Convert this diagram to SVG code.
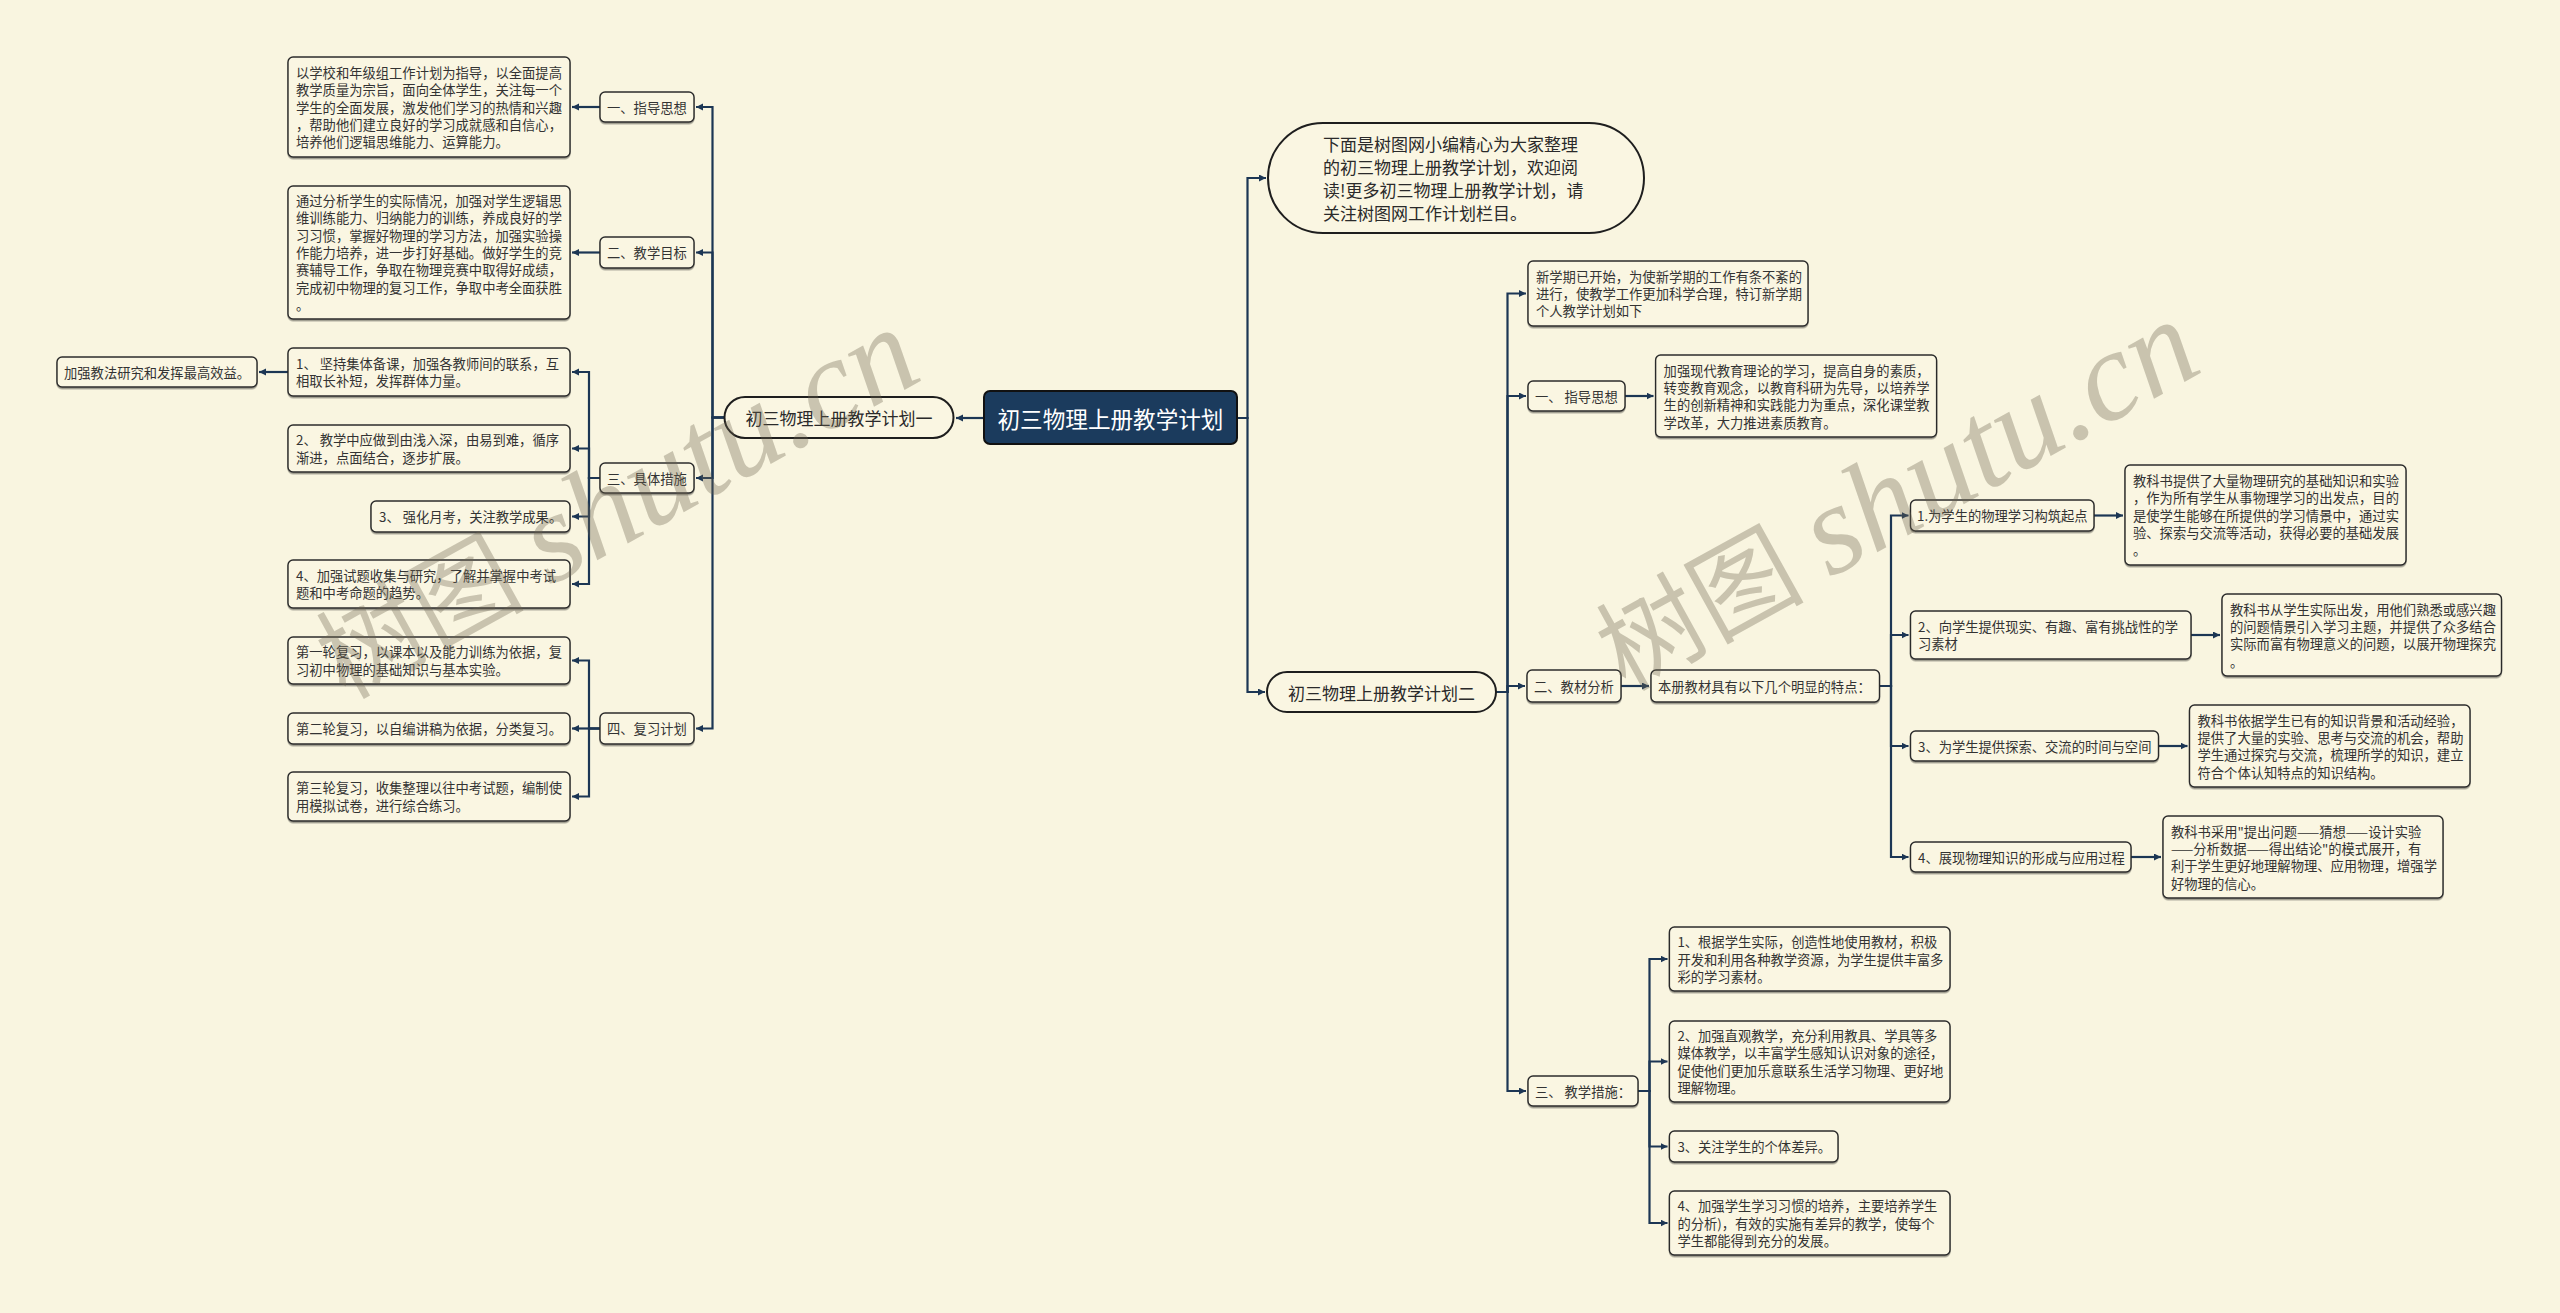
<svg xmlns="http://www.w3.org/2000/svg" width="2560" height="1313" viewBox="0 0 2560 1313">
<defs>
<style>
.bx{fill:#faf6e2;stroke:#2b2b2b;stroke-width:1.4;filter:url(#sh)}
.pl{fill:#faf6e2;stroke:#1e1e1e;stroke-width:2}
.t{font-family:"Noto Sans CJK SC","Noto Sans",sans-serif;font-size:13.3px;fill:#333;dominant-baseline:central}
.tp{font-family:"Noto Sans CJK SC","Noto Sans",sans-serif;font-size:17px;fill:#2a2a2a;dominant-baseline:central}
.tr{font-family:"Noto Sans CJK SC","Noto Sans",sans-serif;font-size:22.6px;fill:#ffffff;dominant-baseline:central}
.c{fill:none;stroke:#1c3654;stroke-width:2.2;marker-end:url(#ar)}
.wm{font-family:"Liberation Serif","Noto Sans CJK SC",serif;font-size:104px;fill:#6b6550;fill-opacity:0.34}
.wl{font-size:128px;font-style:italic}
</style>
<filter id="sh" x="-5%" y="-10%" width="110%" height="130%">
<feDropShadow dx="0" dy="1.5" stdDeviation="0.7" flood-color="#000" flood-opacity="0.4"/>
</filter>
<marker id="ar" markerUnits="userSpaceOnUse" markerWidth="8" markerHeight="8" refX="7" refY="3.5" orient="auto">
<path d="M0,0 L7,3.5 L0,7 Z" fill="#1c3654"/>
</marker>
</defs>
<rect width="2560" height="1313" fill="#f9f5e0"/>

<g id="connectors">
<path class="c" d="M984,418 H956"/>
<path class="c" d="M724.5,417.5 H712.5 V107 H696"/>
<path class="c" d="M724.5,417.5 H712.5 V252.5 H696"/>
<path class="c" d="M724.5,417.5 H712.5 V478 H696"/>
<path class="c" d="M724.5,417.5 H712.5 V728.5 H696"/>
<path class="c" d="M600,107 H572"/>
<path class="c" d="M600,252.5 H572"/>
<path class="c" d="M600,478 H589 V372 H572"/>
<path class="c" d="M600,478 H589 V448.5 H572"/>
<path class="c" d="M600,478 H589 V516.5 H572"/>
<path class="c" d="M600,478 H589 V584 H572"/>
<path class="c" d="M288,372 H259"/>
<path class="c" d="M600,728.5 H589 V660.5 H572"/>
<path class="c" d="M600,728.5 H589 V728.5 H572"/>
<path class="c" d="M600,728.5 H589 V796.5 H572"/>
<path class="c" d="M1237,418 H1247.5 V178 H1266"/>
<path class="c" d="M1237,418 H1247.5 V692 H1265"/>
<path class="c" d="M1496,692 H1507.5 V293.5 H1526"/>
<path class="c" d="M1496,692 H1507.5 V396 H1526"/>
<path class="c" d="M1496,692 H1507.5 V686 H1525"/>
<path class="c" d="M1496,692 H1507.5 V1091 H1526"/>
<path class="c" d="M1625,396 H1653.5"/>
<path class="c" d="M1621,686 H1649"/>
<path class="c" d="M1879.5,686 H1891 V515.5 H1908.5"/>
<path class="c" d="M1879.5,686 H1891 V635 H1908.5"/>
<path class="c" d="M1879.5,686 H1891 V746 H1908.5"/>
<path class="c" d="M1879.5,686 H1891 V857 H1908.5"/>
<path class="c" d="M2094,515.5 H2123"/>
<path class="c" d="M2191,635 H2220"/>
<path class="c" d="M2158.5,746 H2187.5"/>
<path class="c" d="M2131,857 H2161"/>
<path class="c" d="M1638,1091 H1649.5 V959 H1667.5"/>
<path class="c" d="M1638,1091 H1649.5 V1061.5 H1667.5"/>
<path class="c" d="M1638,1091 H1649.5 V1146.5 H1667.5"/>
<path class="c" d="M1638,1091 H1649.5 V1223 H1667.5"/>
</g>

<g id="root">
<rect x="984" y="391" width="253" height="53" rx="6" fill="#1b3b5d" stroke="#111" stroke-width="2"/>
<text class="tr" x="1110.5" y="418" text-anchor="middle">初三物理上册教学计划</text>
</g>

<g id="plan1">
<rect class="pl" x="724.5" y="397" width="229" height="41" rx="20.5"/>
<text class="tp" x="839" y="417.5" text-anchor="middle">初三物理上册教学计划一</text>
</g>

<g id="l-h1">
<rect class="bx" x="600" y="92" width="94" height="30" rx="5"/>
<text class="t" x="607" y="107">一、指导思想</text>
</g>
<g id="l-h1-d">
<rect class="bx" x="288" y="57" width="282" height="100" rx="5"/>
<text class="t" x="296" y="72.4">以学校和年级组工作计划为指导，以全面提高</text>
<text class="t" x="296" y="89.7">教学质量为宗旨，面向全体学生，关注每一个</text>
<text class="t" x="296" y="107">学生的全面发展，激发他们学习的热情和兴趣</text>
<text class="t" x="296" y="124.3">，帮助他们建立良好的学习成就感和自信心，</text>
<text class="t" x="296" y="141.6">培养他们逻辑思维能力、运算能力。</text>
</g>

<g id="l-h2">
<rect class="bx" x="600" y="237" width="94" height="31" rx="5"/>
<text class="t" x="607" y="252.5">二、教学目标</text>
</g>
<g id="l-h2-d">
<rect class="bx" x="288" y="186" width="282" height="133" rx="5"/>
<text class="t" x="296" y="200.6">通过分析学生的实际情况，加强对学生逻辑思</text>
<text class="t" x="296" y="217.9">维训练能力、归纳能力的训练，养成良好的学</text>
<text class="t" x="296" y="235.2">习习惯，掌握好物理的学习方法，加强实验操</text>
<text class="t" x="296" y="252.5">作能力培养，进一步打好基础。做好学生的竞</text>
<text class="t" x="296" y="269.8">赛辅导工作，争取在物理竞赛中取得好成绩，</text>
<text class="t" x="296" y="287.1">完成初中物理的复习工作，争取中考全面获胜</text>
<text class="t" x="296" y="304.4">。</text>
</g>

<g id="l-h3">
<rect class="bx" x="600" y="463" width="94" height="30" rx="5"/>
<text class="t" x="607" y="478">三、具体措施</text>
</g>
<g id="l-m1">
<rect class="bx" x="288" y="348" width="282" height="48" rx="5"/>
<text class="t" x="296" y="363.4">1、 坚持集体备课，加强各教师间的联系，互</text>
<text class="t" x="296" y="380.7">相取长补短，发挥群体力量。</text>
</g>
<g id="l-m0">
<rect class="bx" x="57" y="357" width="200" height="30" rx="5"/>
<text class="t" x="64" y="372">加强教法研究和发挥最高效益。</text>
</g>
<g id="l-m2">
<rect class="bx" x="288" y="425" width="282" height="47" rx="5"/>
<text class="t" x="296" y="439.9">2、 教学中应做到由浅入深，由易到难，循序</text>
<text class="t" x="296" y="457.2">渐进，点面结合，逐步扩展。</text>
</g>
<g id="l-m3">
<rect class="bx" x="371" y="501" width="199" height="31" rx="5"/>
<text class="t" x="379" y="516.5">3、 强化月考，关注教学成果。</text>
</g>
<g id="l-m4">
<rect class="bx" x="288" y="560" width="282" height="48" rx="5"/>
<text class="t" x="296" y="575.4">4、加强试题收集与研究，了解并掌握中考试</text>
<text class="t" x="296" y="592.7">题和中考命题的趋势。</text>
</g>

<g id="l-h4">
<rect class="bx" x="600" y="713" width="94" height="31" rx="5"/>
<text class="t" x="607" y="728.5">四、复习计划</text>
</g>
<g id="l-r1">
<rect class="bx" x="288" y="637" width="282" height="47" rx="5"/>
<text class="t" x="296" y="651.9">第一轮复习，以课本以及能力训练为依据，复</text>
<text class="t" x="296" y="669.2">习初中物理的基础知识与基本实验。</text>
</g>
<g id="l-r2">
<rect class="bx" x="288" y="713" width="282" height="31" rx="5"/>
<text class="t" x="296" y="728.5">第二轮复习，以自编讲稿为依据，分类复习。</text>
</g>
<g id="l-r3">
<rect class="bx" x="288" y="772" width="282" height="49" rx="5"/>
<text class="t" x="296" y="787.9">第三轮复习，收集整理以往中考试题，编制使</text>
<text class="t" x="296" y="805.2">用模拟试卷，进行综合练习。</text>
</g>

<g id="intro">
<rect class="pl" x="1268" y="123" width="376" height="110" rx="55"/>
<text class="tp" x="1323" y="143.5">下面是树图网小编精心为大家整理</text>
<text class="tp" x="1323" y="166.5">的初三物理上册教学计划，欢迎阅</text>
<text class="tp" x="1323" y="189.5">读!更多初三物理上册教学计划，请</text>
<text class="tp" x="1323" y="212.5">关注树图网工作计划栏目。</text>
</g>

<g id="plan2">
<rect class="pl" x="1267" y="672" width="229" height="40" rx="20"/>
<text class="tp" x="1381.5" y="692" text-anchor="middle">初三物理上册教学计划二</text>
</g>

<g id="r-new">
<rect class="bx" x="1528" y="261" width="280" height="65" rx="5"/>
<text class="t" x="1536" y="276.2">新学期已开始，为使新学期的工作有条不紊的</text>
<text class="t" x="1536" y="293.5">进行，使教学工作更加科学合理，特订新学期</text>
<text class="t" x="1536" y="310.8">个人教学计划如下</text>
</g>

<g id="r-h1">
<rect class="bx" x="1528" y="381" width="97" height="30" rx="5"/>
<text class="t" x="1535" y="396">一、 指导思想</text>
</g>
<g id="r-h1-d">
<rect class="bx" x="1655.6" y="355" width="281" height="82" rx="5"/>
<text class="t" x="1663.6" y="370.1">加强现代教育理论的学习，提高自身的素质，</text>
<text class="t" x="1663.6" y="387.4">转变教育观念，以教育科研为先导，以培养学</text>
<text class="t" x="1663.6" y="404.7">生的创新精神和实践能力为重点，深化课堂教</text>
<text class="t" x="1663.6" y="422">学改革，大力推进素质教育。</text>
</g>

<g id="r-h2">
<rect class="bx" x="1527" y="670" width="94" height="32" rx="5"/>
<text class="t" x="1534" y="686">二、教材分析</text>
</g>
<g id="r-h2-a">
<rect class="bx" x="1651" y="670" width="228.5" height="32" rx="5"/>
<text class="t" x="1658" y="686">本册教材具有以下几个明显的特点：</text>
</g>

<g id="r-f1">
<rect class="bx" x="1910.5" y="500" width="183.5" height="31" rx="5"/>
<text class="t" x="1917" y="515.5">1.为学生的物理学习构筑起点</text>
</g>
<g id="r-f1-d">
<rect class="bx" x="2125" y="465" width="281" height="100" rx="5"/>
<text class="t" x="2133" y="480.4">教科书提供了大量物理研究的基础知识和实验</text>
<text class="t" x="2133" y="497.7">，作为所有学生从事物理学习的出发点，目的</text>
<text class="t" x="2133" y="515">是使学生能够在所提供的学习情景中，通过实</text>
<text class="t" x="2133" y="532.3">验、探索与交流等活动，获得必要的基础发展</text>
<text class="t" x="2133" y="549.6">。</text>
</g>

<g id="r-f2">
<rect class="bx" x="1910.5" y="611" width="280.5" height="48" rx="5"/>
<text class="t" x="1918" y="626.4">2、向学生提供现实、有趣、富有挑战性的学</text>
<text class="t" x="1918" y="643.7">习素材</text>
</g>
<g id="r-f2-d">
<rect class="bx" x="2222" y="594" width="279.5" height="82" rx="5"/>
<text class="t" x="2230" y="609.1">教科书从学生实际出发，用他们熟悉或感兴趣</text>
<text class="t" x="2230" y="626.4">的问题情景引入学习主题，并提供了众多结合</text>
<text class="t" x="2230" y="643.7">实际而富有物理意义的问题，以展开物理探究</text>
<text class="t" x="2230" y="661">。</text>
</g>

<g id="r-f3">
<rect class="bx" x="1910.5" y="731" width="248" height="30" rx="5"/>
<text class="t" x="1918" y="746">3、为学生提供探索、交流的时间与空间</text>
</g>
<g id="r-f3-d">
<rect class="bx" x="2189.5" y="705" width="280.5" height="82" rx="5"/>
<text class="t" x="2197.5" y="720.1">教科书依据学生已有的知识背景和活动经验，</text>
<text class="t" x="2197.5" y="737.4">提供了大量的实验、思考与交流的机会，帮助</text>
<text class="t" x="2197.5" y="754.7">学生通过探究与交流，梳理所学的知识，建立</text>
<text class="t" x="2197.5" y="772">符合个体认知特点的知识结构。</text>
</g>

<g id="r-f4">
<rect class="bx" x="1910.5" y="842" width="220.5" height="30" rx="5"/>
<text class="t" x="1918" y="857">4、展现物理知识的形成与应用过程</text>
</g>
<g id="r-f4-d">
<rect class="bx" x="2163" y="816" width="280" height="82" rx="5"/>
<text class="t" x="2171" y="831.1">教科书采用"提出问题——猜想——设计实验</text>
<text class="t" x="2171" y="848.4">——分析数据——得出结论"的模式展开，有</text>
<text class="t" x="2171" y="865.7">利于学生更好地理解物理、应用物理，增强学</text>
<text class="t" x="2171" y="883">好物理的信心。</text>
</g>

<g id="r-h3">
<rect class="bx" x="1528" y="1076" width="110" height="30" rx="5"/>
<text class="t" x="1535" y="1091">三、 教学措施：</text>
</g>
<g id="r-m1">
<rect class="bx" x="1669.4" y="927" width="280.6" height="64" rx="5"/>
<text class="t" x="1677.4" y="941.7">1、根据学生实际，创造性地使用教材，积极</text>
<text class="t" x="1677.4" y="959">开发和利用各种教学资源，为学生提供丰富多</text>
<text class="t" x="1677.4" y="976.3">彩的学习素材。</text>
</g>
<g id="r-m2">
<rect class="bx" x="1669.4" y="1021" width="280.6" height="81" rx="5"/>
<text class="t" x="1677.4" y="1035.6">2、加强直观教学，充分利用教具、学具等多</text>
<text class="t" x="1677.4" y="1052.9">媒体教学，以丰富学生感知认识对象的途径，</text>
<text class="t" x="1677.4" y="1070.2">促使他们更加乐意联系生活学习物理、更好地</text>
<text class="t" x="1677.4" y="1087.5">理解物理。</text>
</g>
<g id="r-m3">
<rect class="bx" x="1669.4" y="1131" width="168.6" height="31" rx="5"/>
<text class="t" x="1677.4" y="1146.5">3、关注学生的个体差异。</text>
</g>
<g id="r-m4">
<rect class="bx" x="1669.4" y="1191" width="280.6" height="64" rx="5"/>
<text class="t" x="1677.4" y="1205.7">4、加强学生学习习惯的培养，主要培养学生</text>
<text class="t" x="1677.4" y="1223">的分析)，有效的实施有差异的教学，使每个</text>
<text class="t" x="1677.4" y="1240.3">学生都能得到充分的发展。</text>
</g>

<g id="watermark">
<text class="wm" transform="translate(345,700) rotate(-29)">树图 <tspan class="wl">shutu.cn</tspan></text>
<text class="wm" transform="translate(1625,692) rotate(-29)">树图 <tspan class="wl">shutu.cn</tspan></text>
</g>
</svg>
